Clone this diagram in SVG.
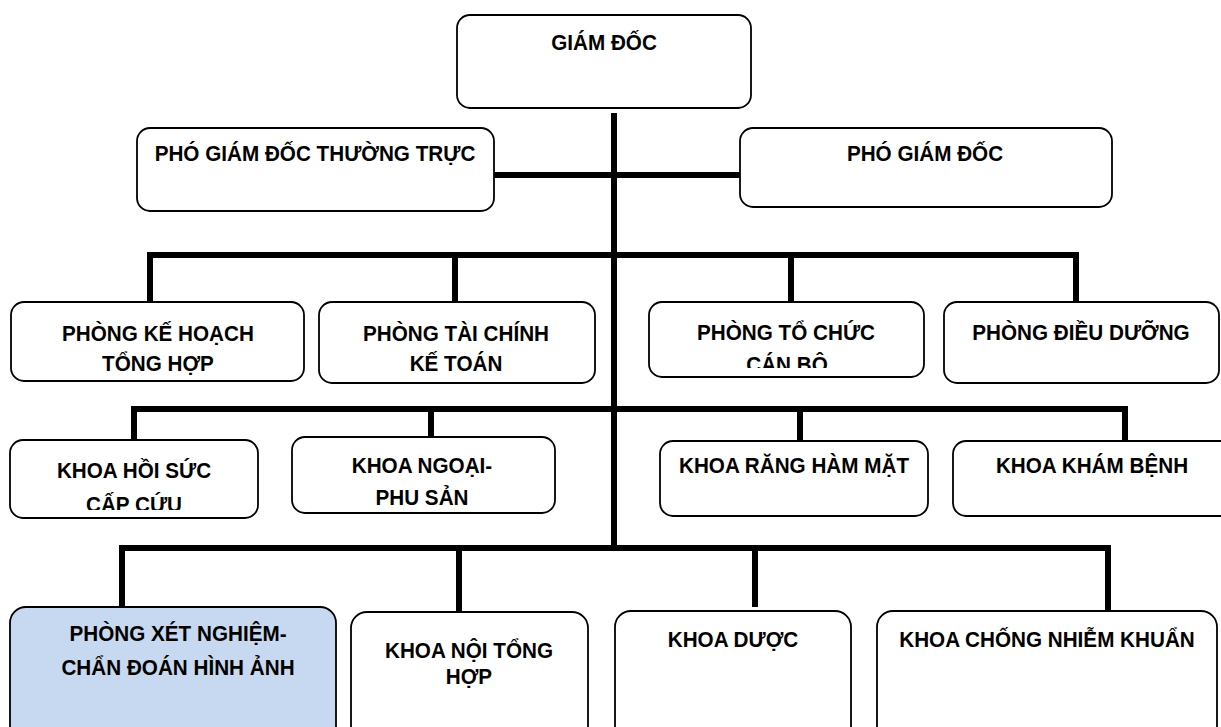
<svg xmlns="http://www.w3.org/2000/svg" width="1221" height="727" viewBox="0 0 1221 727">
  <style>
    .box { fill: #ffffff; stroke: #000000; stroke-width: 1.8; }
    .box.hl { fill: #c6d9f0; }
    .lbl { font-family: "Liberation Sans", Arial, sans-serif; font-weight: bold; font-size: 22px; fill: #000000; text-anchor: middle;
           transform-box: fill-box; transform-origin: center; transform: scaleX(0.94); }
    .conn line { stroke: #000000; stroke-width: 6; stroke-linecap: butt; }
  </style>
  <defs>
    <clipPath id="clip-tccb"><rect x="649" y="302" width="275" height="66"/></clipPath>
    <clipPath id="clip-hscc"><rect x="10" y="440" width="248" height="70"/></clipPath>
  </defs>
  <rect width="1221" height="727" fill="#ffffff"/>

  <!-- connectors -->
  <g id="connectors" class="conn">
    <!-- trunk -->
    <line x1="614" y1="113" x2="614" y2="551"/>
    <!-- deputies -->
    <line x1="494" y1="175" x2="740" y2="175"/>
    <!-- departments row -->
    <line x1="147" y1="255" x2="1079" y2="255"/>
    <line x1="150" y1="252" x2="150" y2="302"/>
    <line x1="455" y1="252" x2="455" y2="302"/>
    <line x1="791" y1="252" x2="791" y2="302"/>
    <line x1="1076" y1="252" x2="1076" y2="302"/>
    <!-- clinical row 1 -->
    <line x1="131" y1="409" x2="1128" y2="409"/>
    <line x1="134" y1="406" x2="134" y2="440"/>
    <line x1="431" y1="406" x2="431" y2="437"/>
    <line x1="800" y1="406" x2="800" y2="441"/>
    <line x1="1125" y1="406" x2="1125" y2="441"/>
    <!-- clinical row 2 -->
    <line x1="119" y1="548" x2="1111" y2="548"/>
    <line x1="122" y1="545" x2="122" y2="607"/>
    <line x1="459" y1="545" x2="459" y2="611"/>
    <line x1="755" y1="545" x2="755" y2="607"/>
    <line x1="1108" y1="545" x2="1108" y2="611"/>
  </g>

  <g id="giam-doc">
    <rect class="box" x="457" y="15" width="294" height="93" rx="13"/>
    <text class="lbl" x="604" y="50">GIÁM ĐỐC</text>
  </g>

  <g id="pho-giam-doc-thuong-truc">
    <rect class="box" x="137" y="128" width="357" height="83" rx="13"/>
    <text class="lbl" x="315" y="161.5">PHÓ GIÁM ĐỐC THƯỜNG TRỰC</text>
  </g>

  <g id="pho-giam-doc">
    <rect class="box" x="740" y="128" width="372" height="79" rx="13"/>
    <text class="lbl" x="925" y="161">PHÓ GIÁM ĐỐC</text>
  </g>

  <g id="phong-ke-hoach">
    <rect class="box" x="11" y="302" width="293" height="79" rx="13"/>
    <text class="lbl" x="158" y="341">PHÒNG KẾ HOẠCH</text>
    <text class="lbl" x="158" y="371">TỔNG HỢP</text>
  </g>

  <g id="phong-tai-chinh">
    <rect class="box" x="319" y="302" width="276" height="81" rx="13"/>
    <text class="lbl" x="456" y="341">PHÒNG TÀI CHÍNH</text>
    <text class="lbl" x="456" y="371">KẾ TOÁN</text>
  </g>

  <g id="phong-to-chuc">
    <rect class="box" x="649" y="302" width="275" height="75" rx="13"/>
    <text class="lbl" x="786" y="340">PHÒNG TỔ CHỨC</text>
    <text class="lbl" x="787" y="372" clip-path="url(#clip-tccb)">CÁN BỘ</text>
  </g>

  <g id="phong-dieu-duong">
    <rect class="box" x="944" y="302" width="275" height="81" rx="13"/>
    <text class="lbl" x="1081" y="340">PHÒNG ĐIỀU DƯỠNG</text>
  </g>

  <g id="khoa-hoi-suc">
    <rect class="box" x="10" y="440" width="248" height="78" rx="13"/>
    <text class="lbl" x="134" y="478">KHOA HỒI SỨC</text>
    <text class="lbl" x="134" y="512" clip-path="url(#clip-hscc)">CẤP CỨU</text>
  </g>

  <g id="khoa-ngoai">
    <rect class="box" x="292" y="437" width="263" height="76" rx="13"/>
    <text class="lbl" x="422" y="473">KHOA NGOẠI-</text>
    <text class="lbl" x="422" y="505">PHU SẢN</text>
  </g>

  <g id="khoa-rang-ham-mat">
    <rect class="box" x="660" y="441" width="268" height="75" rx="13"/>
    <text class="lbl" x="794" y="473">KHOA RĂNG HÀM MẶT</text>
  </g>

  <g id="khoa-kham-benh">
    <rect class="box" x="953" y="441" width="290" height="75" rx="13"/>
    <text class="lbl" x="1092" y="473">KHOA KHÁM BỆNH</text>
  </g>

  <g id="phong-xet-nghiem">
    <rect class="box hl" x="10" y="607" width="326" height="140" rx="16"/>
    <text class="lbl" x="178" y="641">PHÒNG XÉT NGHIỆM-</text>
    <text class="lbl" x="178" y="675">CHẨN ĐOÁN HÌNH ẢNH</text>
  </g>

  <g id="khoa-noi">
    <rect class="box" x="351" y="612" width="237" height="135" rx="16"/>
    <text class="lbl" x="469" y="658">KHOA NỘI TỔNG</text>
    <text class="lbl" x="469" y="684">HỢP</text>
  </g>

  <g id="khoa-duoc">
    <rect class="box" x="615" y="611" width="236" height="136" rx="16"/>
    <text class="lbl" x="733" y="647">KHOA DƯỢC</text>
  </g>

  <g id="khoa-chong-nhiem-khuan">
    <rect class="box" x="877" y="611" width="340" height="136" rx="16"/>
    <text class="lbl" x="1047" y="647">KHOA CHỐNG NHIỄM KHUẨN</text>
  </g>
</svg>
